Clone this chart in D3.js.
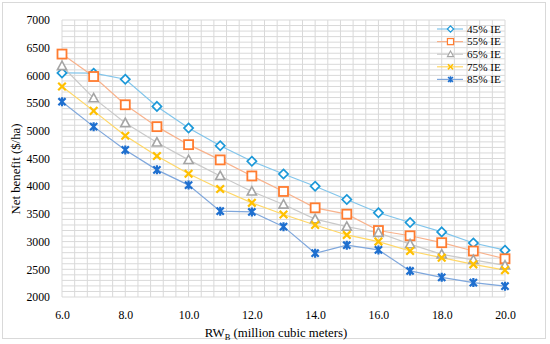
<!DOCTYPE html>
<html><head><meta charset="utf-8">
<script src="https://cdn.jsdelivr.net/npm/d3@7"></script>
<style>body{margin:0;background:#fff}svg{display:block}</style>
</head><body><svg id="c" width="550" height="344"></svg>
<script>
const xValues = [6,7,8,9,10,11,12,13,14,15,16,17,18,19,20];
const seriesNames = ["45% IE","55% IE","65% IE","75% IE","85% IE"];
const ie45 = [6045,6040,5930,5440,5050,4730,4450,4220,4000,3760,3520,3345,3175,2975,2845];
const ie55 = [6385,5980,5470,5075,4750,4475,4185,3905,3610,3495,3200,3105,2980,2830,2690];
const ie65 = [6170,5590,5140,4790,4475,4185,3905,3670,3405,3270,3160,2955,2770,2670,2570];
const ie75 = [5800,5360,4910,4545,4225,3950,3700,3490,3300,3120,3000,2830,2710,2590,2485];
const ie85 = [5525,5075,4655,4295,4020,3550,3535,3270,2790,2935,2850,2470,2355,2260,2195];
const xTicks = [6,8,10,12,14,16,18,20];
const yTicks = [2000,2500,3000,3500,4000,4500,5000,5500,6000,6500,7000];

const seriesValues = [ie45,ie55,ie65,ie75,ie85];
const markerColors = ["#1b98d8","#ff7c30","#a5a5a5","#ffc000","#1e6fcf"];
const lineColors = ["#82c5eb","#f8b28c","#c9c9c9","#ffd766","#7fa7dc"];
const shapes = ["diamond","square","triangle","x","star"];
const FONT = "'Liberation Serif', 'Times New Roman', serif";

const svg = d3.select("#c");
const L=62,R=505,T=20,B=297;
const x = d3.scaleLinear().domain([6,20]).range([L,R]);
const y = d3.scaleLinear().domain([2000,7000]).range([B,T]);

// outer frame
svg.append("rect").attr("x",2.5).attr("y",2.5).attr("width",543).attr("height",336)
  .attr("fill","#fff").attr("stroke","#d9d9d9").attr("stroke-width",1);

// gridlines
const g = svg.append("g");
const vgrid = d3.range(0,36).map(i=>6+i*0.4);
g.selectAll(".vg").data(vgrid).join("line")
  .attr("x1",d=>x(d)).attr("x2",d=>x(d)).attr("y1",T).attr("y2",B)
  .attr("stroke","#d9d9d9").attr("stroke-width",1);
const hgrid = d3.range(0,51).map(i=>2000+i*100);
g.selectAll(".hg").data(hgrid).join("line")
  .attr("x1",L).attr("x2",R).attr("y1",d=>y(d)).attr("y2",d=>y(d))
  .attr("stroke","#d9d9d9").attr("stroke-width",1);

// axes
const xa = svg.append("g").attr("transform",`translate(0,${B})`)
  .call(d3.axisBottom(x).tickValues(xTicks).tickFormat(d3.format(".1f")).tickSize(0).tickPadding(14));
xa.select(".domain").remove();
xa.attr("font-family",null).attr("font-size",null);
xa.selectAll("text").style("font-family",FONT).style("font-size","11.8px").attr("fill","#000");
const ya = svg.append("g").attr("transform",`translate(${L},0)`)
  .call(d3.axisLeft(y).tickValues(yTicks).tickFormat(d3.format("d")).tickSize(0).tickPadding(12));
ya.select(".domain").remove();
ya.attr("font-family",null).attr("font-size",null);
ya.selectAll("text").style("font-family",FONT).style("font-size","11.8px").attr("fill","#000");

function drawMarker(sel, shape, color){
  if(shape==="diamond"){
    sel.append("path").attr("d","M0,-4.6L4.6,0L0,4.6L-4.6,0Z").attr("fill","#fff").attr("stroke",color).attr("stroke-width",1.7);
  } else if(shape==="square"){
    sel.append("rect").attr("x",-4.5).attr("y",-4.5).attr("width",9).attr("height",9).attr("fill","#fff").attr("stroke",color).attr("stroke-width",1.8);
  } else if(shape==="triangle"){
    sel.append("path").attr("d","M0,-4.8L4.6,3.6L-4.6,3.6Z").attr("fill","#fff").attr("stroke",color).attr("stroke-width",1.6);
  } else if(shape==="x"){
    sel.append("path").attr("d","M-3.8,-3.8L3.8,3.8M3.8,-3.8L-3.8,3.8").attr("stroke",color).attr("stroke-width",2.2).attr("fill","none");
  } else {
    sel.append("path").attr("d","M-3.6,-3.6L3.6,3.6M3.6,-3.6L-3.6,3.6M0,-4.5L0,4.5").attr("stroke",color).attr("stroke-width",2.2).attr("fill","none");
  }
}

const line = d3.line().x((d,i)=>x(xValues[i])).y(d=>y(d));
seriesValues.forEach((vals,si)=>{
  svg.append("path").datum(vals).attr("d",line).attr("fill","none")
    .attr("stroke",lineColors[si]).attr("stroke-width",1.2);
});
seriesValues.forEach((vals,si)=>{
  vals.forEach((v,i)=>{
    const m = svg.append("g").attr("transform",`translate(${x(xValues[i])},${y(v)})`);
    drawMarker(m, shapes[si], markerColors[si]);
  });
});

// legend
const leg = svg.append("g");
seriesNames.forEach((n,i)=>{
  const ly = 29 + i*12.6;
  leg.append("line").attr("x1",437).attr("x2",463).attr("y1",ly).attr("y2",ly)
    .attr("stroke",lineColors[i]).attr("stroke-width",1.2);
  const m = leg.append("g").attr("transform",`translate(450.5,${ly}) scale(0.68)`);
  drawMarker(m, shapes[i], markerColors[i]);
  leg.append("text").attr("x",467).attr("y",ly+3.8).style("font-family",FONT).style("font-size","11.2px").attr("fill","#000").text(n);
});

// axis titles
const xt = svg.append("text").attr("x",276).attr("y",337).attr("text-anchor","middle")
  .style("font-family",FONT).style("font-size","12.8px").attr("fill","#000");
xt.append("tspan").text("RW");
xt.append("tspan").style("font-size","8.5px").attr("dy",3).text("B");
xt.append("tspan").attr("dy",-3).text(" (million cubic meters)");
svg.append("text").attr("transform","translate(20,169) rotate(-90)").attr("text-anchor","middle")
  .style("font-family",FONT).style("font-size","12.8px").attr("fill","#000").text("Net benefit ($/ha)");
</script></body></html>
